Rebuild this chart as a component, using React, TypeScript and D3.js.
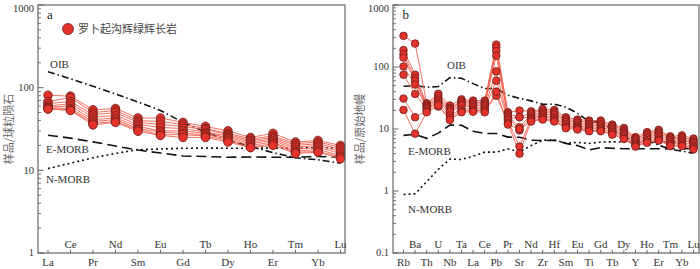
import React from 'react';
import * as d3 from 'd3';

// REE, chondrite normalised (panel a)
const reeElements = ['La', 'Ce', 'Pr', 'Nd', 'Sm', 'Eu', 'Gd', 'Tb', 'Dy', 'Ho', 'Er', 'Tm', 'Yb', 'Lu'];
const reeOIB = [156, 128, 104, 84, 67, 53, 38, 29, 23, 19.4, 16.4, 14.2, 13.4, 12.2];
const reeEMORB = [26.6, 24.5, 22.1, 19.7, 17.6, 16.2, 14.9, 14.7, 14.4, 14.5, 14.4, 14.4, 14.7, 14.4];
const reeNMORB = [10.5, 12.2, 14.2, 16, 17.8, 18.1, 18.5, 18.6, 18.5, 18.5, 18.6, 18.5, 18.9, 18.5];
const reeSamples = [
  [81, 79, 54, 56, 43, 43, 38, 34, 30, 25, 28, 22, 23, 20],
  [68, 76, 50, 53, 40, 39, 36, 32, 28, 24, 26, 21, 22, 19],
  [64, 68, 47, 50, 38, 36, 34, 31, 27, 23, 25, 20, 21, 18],
  [60, 64, 44, 46, 36, 33, 32, 29, 26, 22, 24, 19, 20, 17],
  [58, 60, 41, 43, 34, 30, 30, 28, 25, 21, 23, 18, 19, 16],
  [57, 56, 39, 41, 32, 29, 28, 27, 24, 20, 22, 17, 18, 15],
  [56, 54, 37, 39, 31, 27, 27, 26, 23, 19, 21, 16.5, 17, 14.5],
  [55, 53, 35.5, 38, 29.7, 26.4, 25, 25, 22, 18.8, 20, 16, 16.6, 13.8],
];

// trace elements, primitive mantle normalised (panel b)
const traceElements = ['Rb', 'Ba', 'Th', 'U', 'Nb', 'Ta', 'La', 'Ce', 'Pb', 'Pr', 'Sr', 'Nd', 'Zr', 'Hf',
  'Sm', 'Eu', 'Ti', 'Gd', 'Tb', 'Dy', 'Y', 'Ho', 'Er', 'Tm', 'Yb', 'Lu'];
const traceOIB = [48.8, 50, 47, 48.6, 67.3, 65.9, 53.9, 45.1, 45, 35.1, 31.3, 28.4, 25, 25.2,
  22.5, 17.9, 13.2, 12.8, 9.7, 7.6, 6.4, 6.5, 5.5, 4.7, 4.4, 4.05];
const traceEMORB = [7.9, 8.2, 7.06, 8.57, 11.6, 11.5, 9.2, 8.45, 8.45, 7.4, 7.35, 6.6, 6.5, 6.6,
  5.86, 5.4, 4.6, 5.0, 4.9, 4.8, 4.8, 4.8, 4.8, 4.8, 4.8, 4.8];
const traceNMORB = [0.88, 0.9, 1.41, 2.24, 3.27, 3.22, 3.64, 4.23, 4.23, 4.78, 4.27, 5.39, 6.6, 6.63,
  5.92, 6.07, 5.85, 6.17, 6.2, 6.17, 6.15, 6.16, 6.19, 6.16, 6.19, 6.15];
const traceSamples = [
  [318, 239, 26, 37, 24, 30, 28.7, 28.7, 230, 18.6, 19.8, 19.3, 21, 20.3, 15.5, 14.2, 13.7, 13.7, 11.8, 10.4, 7.4, 8.9, 9.7, 7.6, 7.9, 7.0],
  [187, 75, 25, 34, 22, 28, 27, 27, 206, 17.5, 15.5, 18.2, 19.8, 19, 14.5, 13.4, 12.9, 12.9, 11.2, 9.8, 7.0, 8.4, 9.1, 7.3, 7.4, 6.6],
  [161, 66, 24, 31, 21, 27, 25.4, 25.4, 182, 16.5, 10.7, 17.1, 18.6, 17.9, 13.7, 12.6, 12.1, 12.1, 10.7, 9.2, 6.7, 7.9, 8.6, 7.0, 7.0, 6.2],
  [142, 60, 23, 29, 20, 25, 24, 24, 152, 15.5, 9.5, 16.1, 17.5, 16.7, 12.9, 11.8, 11.4, 11.4, 10.1, 8.7, 6.3, 7.4, 8.1, 6.6, 6.6, 5.9],
  [102, 52, 22, 27, 18.6, 23.9, 22.4, 22.4, 85, 14.6, 15.5, 15.1, 16.5, 15.5, 12.1, 11.1, 10.7, 10.7, 9.5, 8.2, 5.9, 7.0, 7.6, 6.2, 6.2, 5.5],
  [75, 36.7, 21, 25.4, 16.5, 21.1, 21, 21, 60, 13.7, 5.2, 14.6, 15.6, 14.6, 11.4, 10.6, 10.1, 10.1, 9.0, 7.7, 5.6, 6.6, 7.1, 5.8, 5.8, 5.2],
  [31, 15.5, 19.5, 23, 15, 19.5, 19.8, 19.8, 34.5, 12.5, 4.0, 13.7, 14.6, 13.7, 10.7, 10.2, 9.5, 9.5, 8.4, 7.2, 5.4, 6.2, 6.7, 5.5, 5.5, 4.9],
  [20.3, 8.4, 18.6, 24, 14, 18.6, 19, 18.6, 40, 11.8, 10.0, 13.2, 14.2, 13.2, 10.3, 9.8, 9.2, 9.2, 8.1, 6.9, 5.2, 6.0, 6.5, 5.3, 5.3, 4.7],
];

const serif = '"Liberation Serif", "Times New Roman", serif';
const cjk = '"Noto Sans CJK SC", sans-serif';
const pointFill = '#e5322b';
const pointStroke = '#6b1f1c';
const lineRed = '#f2604f';

type PanelProps = {
  left: number;
  right: number;
  top: number;
  bottom: number;
  x0: number;
  x1: number;
  elements: string[];
  yDomain: [number, number];
  yTicks: number[];
  oib: number[];
  emorb: number[];
  nmorb: number[];
  samples: number[][];
  r: number;
  letter: string;
  yLabel: string;
  yLabelX: number;
  labels: { oib: [number, number]; e: [number, number]; n: [number, number] };
  legend?: boolean;
};

const Panel = (p: PanelProps) => {
  const x = d3.scalePoint<string>().domain(p.elements).range([p.x0, p.x1]);
  const y = d3.scaleLog().domain(p.yDomain).range([p.bottom, p.top]);
  const line = d3.line<number>()
    .x((_, i) => x(p.elements[i]) as number)
    .y(d => y(d));

  const minor: number[] = [];
  const lo = Math.round(Math.log10(p.yDomain[0]));
  const hi = Math.round(Math.log10(p.yDomain[1]));
  for (let k = lo; k < hi; k++) {
    for (let m = 2; m <= 9; m++) minor.push(m * Math.pow(10, k));
  }

  return (
    <g>
      {/* reference lines */}
      <path d={line(p.nmorb) || ''} fill="none" stroke="#111" strokeWidth={1.6} strokeDasharray="2,3" />
      <path d={line(p.emorb) || ''} fill="none" stroke="#111" strokeWidth={1.6} strokeDasharray="10,5" />
      <path d={line(p.oib) || ''} fill="none" stroke="#111" strokeWidth={1.6} strokeDasharray="7,3,1.5,3" />

      {/* sample lines */}
      {p.samples.map((s, i) => (
        <path key={'l' + i} d={line(s) || ''} fill="none" stroke={lineRed} strokeWidth={0.9} />
      ))}
      {p.samples.map((s, i) => (
        <g key={'p' + i}>
          {s.map((v, j) => (
            <circle key={j} cx={x(p.elements[j])} cy={y(v)} r={p.r}
              fill={pointFill} stroke={pointStroke} strokeWidth={0.8} />
          ))}
        </g>
      ))}

      {/* frame */}
      <rect x={p.left} y={p.top} width={p.right - p.left} height={p.bottom - p.top}
        fill="none" stroke="#666" strokeWidth={1.2} />

      {/* y ticks */}
      {minor.map(v => (
        <line key={'m' + v} x1={p.left} x2={p.left + 3} y1={y(v)} y2={y(v)} stroke="#555" strokeWidth={0.8} />
      ))}
      {p.yTicks.map(v => (
        <g key={'t' + v}>
          <line x1={p.left} x2={p.left + 5.5} y1={y(v)} y2={y(v)} stroke="#555" strokeWidth={0.9} />
          <text x={p.left - 4} y={Math.max(y(v), 9)} dy="0.33em" textAnchor="end" fontFamily={serif}
            fontSize={10.5} fill="#333">{v === 0.1 ? '0.1' : v}</text>
        </g>
      ))}

      {/* x ticks and labels */}
      {p.elements.map((el, i) => (
        <g key={el}>
          <line x1={x(el)} x2={x(el)} y1={p.bottom} y2={p.bottom - 3} stroke="#555" strokeWidth={0.9} />
          <text x={x(el)} y={i % 2 === 0 ? p.bottom + 13 : p.bottom - 5} textAnchor="middle"
            fontFamily={serif} fontSize={11} fill="#333">{el}</text>
        </g>
      ))}

      <text x={p.x0 - 1} y={p.top + 14} fontFamily={serif} fontSize={13} fill="#222">{p.letter}</text>
      <text x={p.labels.oib[0]} y={p.labels.oib[1]} fontFamily={serif} fontSize={11} fill="#333">OIB</text>
      <text x={p.labels.e[0]} y={p.labels.e[1]} fontFamily={serif} fontSize={11} fill="#333">E-MORB</text>
      <text x={p.labels.n[0]} y={p.labels.n[1]} fontFamily={serif} fontSize={11} fill="#333">N-MORB</text>

      <text transform={`translate(${p.yLabelX},${(p.top + p.bottom) / 2}) rotate(-90)`}
        textAnchor="middle" dy="0.35em" fontFamily={cjk} fontSize={11} fill="#666">{p.yLabel}</text>

      {p.legend && (
        <g>
          <circle cx={68} cy={29} r={5.5} fill={pointFill} stroke={pointStroke} strokeWidth={0.8} />
          <text x={78} y={29} dy="0.35em" fontFamily={cjk} fontSize={11} fill="#444">罗卜起沟辉绿辉长岩</text>
        </g>
      )}
    </g>
  );
};

const App = () => (
  <svg width={700} height={269} style={{ display: 'block', position: 'absolute', left: 0, top: 0, background: '#fff' }}>
    <Panel left={38} right={345} top={5} bottom={253} x0={48} x1={340.5}
      elements={reeElements} yDomain={[1, 1000]} yTicks={[1, 10, 100, 1000]}
      oib={reeOIB} emorb={reeEMORB} nmorb={reeNMORB} samples={reeSamples} r={4.3}
      letter="a" yLabel="样品/球粒陨石" yLabelX={9}
      labels={{ oib: [50, 68], e: [46, 153], n: [46, 183] }} legend />
    <Panel left={393} right={699} top={5} bottom={253} x0={403.5} x1={693.5}
      elements={traceElements} yDomain={[0.1, 1000]} yTicks={[0.1, 1, 10, 100, 1000]}
      oib={traceOIB} emorb={traceEMORB} nmorb={traceNMORB} samples={traceSamples} r={3.8}
      letter="b" yLabel="样品/原始地幔" yLabelX={360}
      labels={{ oib: [447, 69], e: [408, 155], n: [408, 213] }} />
  </svg>
);

export default App;
